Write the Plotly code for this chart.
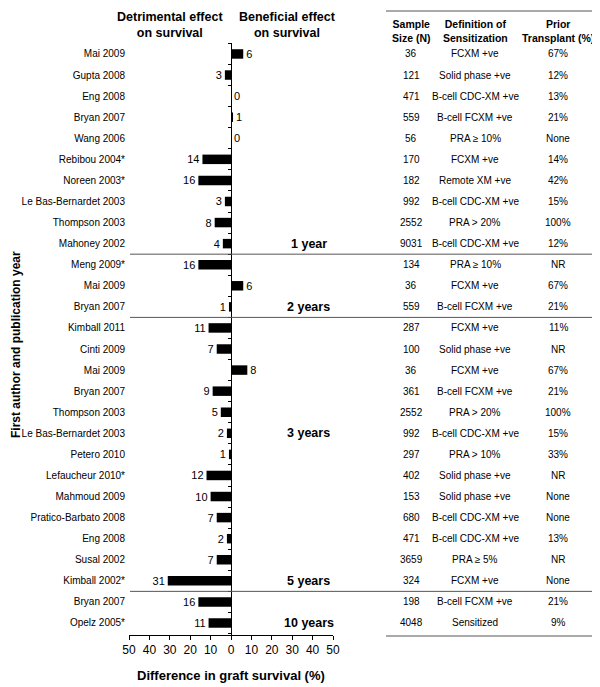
import plotly.graph_objects as go

authors = ["Mai 2009", "Gupta 2008", "Eng 2008", "Bryan 2007", "Wang 2006",
           "Rebibou 2004*", "Noreen 2003*", "Le Bas-Bernardet 2003", "Thompson 2003", "Mahoney 2002",
           "Meng 2009*", "Mai 2009", "Bryan 2007",
           "Kimball 2011", "Cinti 2009", "Mai 2009", "Bryan 2007", "Thompson 2003",
           "Le Bas-Bernardet 2003", "Petero 2010", "Lefaucheur 2010*", "Mahmoud 2009",
           "Pratico-Barbato 2008", "Eng 2008", "Susal 2002",
           "Kimball 2002*",
           "Bryan 2007", "Opelz 2005*"]
differences = [6, -3, 0, 1, 0, -14, -16, -3, -8, -4,
               -16, 6, -1,
               -11, -7, 8, -9, -5, -2, -1, -12, -10, -7, -2, -7,
               -31,
               -16, -11]
sample_sizes = ["36", "121", "471", "559", "56", "170", "182", "992", "2552", "9031",
                "134", "36", "559",
                "287", "100", "36", "361", "2552", "992", "297", "402", "153", "680", "471", "3659",
                "324",
                "198", "4048"]
definitions = ["FCXM +ve", "Solid phase +ve", "B-cell CDC-XM +ve", "B-cell FCXM +ve", "PRA ≥ 10%",
               "FCXM +ve", "Remote XM +ve", "B-cell CDC-XM +ve", "PRA > 20%", "B-cell CDC-XM +ve",
               "PRA ≥ 10%", "FCXM +ve", "B-cell FCXM +ve",
               "FCXM +ve", "Solid phase +ve", "FCXM +ve", "B-cell FCXM +ve", "PRA > 20%",
               "B-cell CDC-XM +ve", "PRA > 10%", "Solid phase +ve", "Solid phase +ve",
               "B-cell CDC-XM +ve", "B-cell CDC-XM +ve", "PRA ≥ 5%",
               "FCXM +ve",
               "B-cell FCXM +ve", "Sensitized"]
prior_transplant = ["67%", "12%", "13%", "21%", "None", "14%", "42%", "15%", "100%", "12%",
                    "NR", "67%", "21%",
                    "11%", "NR", "67%", "21%", "100%", "15%", "33%", "NR", "None", "None", "13%", "NR",
                    "None",
                    "21%", "9%"]
group_labels = ["1 year", "2 years", "3 years", "5 years", "10 years"]
group_label_rows = [9, 12, 18, 25, 27]
separator_after_rows = [9, 12, 25]
x_ticks = [-50, -40, -30, -20, -10, 0, 10, 20, 30, 40, 50]

# page body has an 8px margin; figure sized so the page does not scroll
OFF = 8
W, H = 600 - OFF, 687 - OFF
FONT = "Liberation Sans, Arial, sans-serif"

def px_x(p):
    return (p - OFF) / W

def px_y(p):
    return 1 - (p - OFF) / H

rows = list(range(len(authors)))
y_range = [27.57, -0.52]

fig = go.Figure()
fig.add_trace(go.Bar(
    x=differences, y=rows, orientation="h",
    marker=dict(color="black", line=dict(width=0)),
    width=0.45,
    text=[str(abs(v)) for v in differences],
    textposition="outside", cliponaxis=False, constraintext="none",
    textfont=dict(family=FONT, size=11, color="black"),
    hoverinfo="skip", showlegend=False,
))
fig.add_trace(go.Scatter(
    x=[0] * len(rows), y=rows, yaxis="y2", mode="markers",
    marker=dict(opacity=0), hoverinfo="skip", showlegend=False,
))

annotations = []
for txt, xc in [("Detrimental effect<br>on survival", 170), ("Beneficial effect<br>on survival", 287)]:
    annotations.append(dict(text="<b>" + txt + "</b>", x=px_x(xc), y=px_y(8), xref="paper", yref="paper",
                            xanchor="center", yanchor="top", showarrow=False,
                            font=dict(family=FONT, size=12.5, color="black")))
col_x = [411, 475, 558]
for txt, xc in zip(["Sample<br>Size (N)", "Definition of<br>Sensitization", "Prior<br>Transplant (%)"], col_x):
    annotations.append(dict(text="<b>" + txt + "</b>", x=px_x(xc), y=px_y(16), xref="paper", yref="paper",
                            xanchor="center", yanchor="top", showarrow=False,
                            font=dict(family=FONT, size=10.5, color="black")))
for i in rows:
    for col, vals in zip(col_x, [sample_sizes, definitions, prior_transplant]):
        annotations.append(dict(text=vals[i], x=px_x(col), y=i, xref="paper", yref="y",
                                xanchor="center", yanchor="middle", showarrow=False,
                                font=dict(family=FONT, size=10, color="black")))
for lab, r in zip(group_labels, group_label_rows):
    annotations.append(dict(text="<b>" + lab + "</b>", x=38, y=r, xref="x", yref="y",
                            xanchor="center", yanchor="middle", showarrow=False,
                            font=dict(family=FONT, size=12.5, color="black")))
annotations.append(dict(text="<b>Difference in graft survival (%)</b>", x=px_x(231), y=px_y(675),
                        xref="paper", yref="paper", xanchor="center", yanchor="middle", showarrow=False,
                        font=dict(family=FONT, size=13, color="black")))
annotations.append(dict(text="<b>First author and publication year</b>", x=px_x(7), y=px_y(345),
                        xref="paper", yref="paper", xanchor="left", yanchor="middle", showarrow=False,
                        textangle=-90, font=dict(family=FONT, size=12, color="black")))

shapes = []
line_col = "#555555"
shapes.append(dict(type="line", xref="paper", yref="paper", x0=px_x(386), x1=px_x(593),
                   y0=px_y(11), y1=px_y(11), line=dict(color=line_col, width=1)))
shapes.append(dict(type="line", xref="paper", yref="paper", x0=px_x(386), x1=px_x(593),
                   y0=px_y(636), y1=px_y(636), line=dict(color=line_col, width=1)))
for r in separator_after_rows:
    shapes.append(dict(type="line", xref="paper", yref="y", x0=px_x(130), x1=px_x(595),
                       y0=r + 0.5, y1=r + 0.5, line=dict(color=line_col, width=1)))

fig.update_layout(
    width=W, height=H,
    margin=dict(l=0, r=0, t=0, b=0),
    paper_bgcolor="white", plot_bgcolor="white",
    font=dict(family=FONT, size=11, color="black"),
    xaxis=dict(domain=[px_x(129), px_x(333)], range=[-50, 50], tickvals=x_ticks,
               ticktext=[str(abs(v)) for v in x_ticks], ticks="outside", ticklen=4,
               tickcolor="black", showline=True, linecolor="black", linewidth=1,
               showgrid=False, zeroline=False, automargin=False,
               tickfont=dict(family=FONT, size=12, color="black")),
    yaxis=dict(domain=[px_y(635), px_y(43)], range=y_range, tickvals=rows, ticktext=authors,
               showgrid=False, zeroline=False, showline=False, ticks="", automargin=False,
               ticklabelstandoff=3, tickfont=dict(family=FONT, size=10, color="black")),
    yaxis2=dict(overlaying="y", anchor="free", position=px_x(231), side="left",
                range=y_range, tickmode="linear", tick0=-0.5, dtick=1, ticks="outside", ticklen=3,
                tickcolor="black", showticklabels=False, showline=True, linecolor="black",
                linewidth=1, showgrid=False, zeroline=False),
    annotations=annotations,
    shapes=shapes,
)

fig.write_html("out.html")
